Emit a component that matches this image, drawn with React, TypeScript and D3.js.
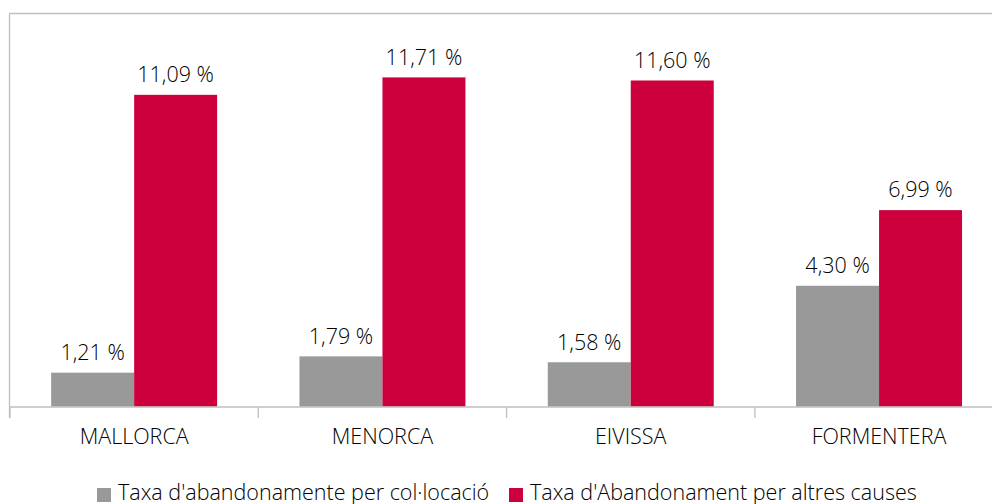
import React from 'react';
import * as d3 from 'd3';

const islands = ['MALLORCA', 'MENORCA', 'EIVISSA', 'FORMENTERA'];
const colocacio = [1.21, 1.79, 1.58, 4.3];
const altres = [11.09, 11.71, 11.6, 6.99];
const seriesNames = ["Taxa d'abandonamente per col·locació", "Taxa d'Abandonament per altres causes"];
const seriesColors = ['#999999', '#cc003d'];

const W = 992;
const H = 504;
const font = '"Open Sans", sans-serif';
const fs = 21.5;

const App: React.FC = () => {
  const x = d3.scaleBand<string>()
    .domain(islands)
    .range([10, 10 + 248.3 * 4])
    .paddingInner(0)
    .paddingOuter(0);

  const inner = d3.scaleBand<number>()
    .domain([0, 1])
    .range([0, x.bandwidth()])
    .paddingInner(0)
    .paddingOuter(0.496);

  const y = d3.scaleLinear().domain([0, 14]).range([406.7, 13]);

  const fmt = (v: number) => d3.format('.2f')(v).replace('.', ',') + ' %';
  const series = [colocacio, altres];

  return (
    <svg width={W} height={H} style={{ position: 'absolute', left: 0, top: 0, background: '#fff' }}>
      <line x1={9.5} x2={W} y1={13.5} y2={13.5} stroke="#bfbfbf" strokeWidth={1.3} />
      <line x1={9.5} x2={9.5} y1={13.5} y2={418} stroke="#bfbfbf" strokeWidth={1.3} />

      {series.map((vals, si) =>
        islands.map((c, i) => {
          const bx = (x(c) || 0) + (inner(si) || 0);
          const bw = inner.bandwidth();
          return (
            <g key={`${si}-${c}`}>
              <rect x={bx} y={y(vals[i])} width={bw} height={y(0) - y(vals[i])} fill={seriesColors[si]} />
              <text
                x={bx + bw / 2}
                y={y(vals[i]) - 12.7}
                textAnchor="middle"
                fontFamily={font}
                fontWeight={300}
                fontSize={fs}
                fill="#000"
              >
                {fmt(vals[i])}
              </text>
            </g>
          );
        })
      )}

      <line x1={9.5} x2={W} y1={407} y2={407} stroke="#bfbfbf" strokeWidth={1.6} />
      {islands.map((c) => (
        <line key={c} x1={(x(c) || 0)} x2={(x(c) || 0)} y1={407} y2={418} stroke="#bfbfbf" strokeWidth={1.3} />
      ))}
      {islands.map((c) => (
        <text
          key={c}
          x={(x(c) || 0) + x.bandwidth() / 2}
          y={444}
          textAnchor="middle"
          fontFamily={font}
          fontWeight={300}
          fontSize={fs}
          fill="#000"
        >
          {c}
        </text>
      ))}

      {seriesNames.map((n, i) => {
        const lx = i === 0 ? 97 : 509;
        return (
          <g key={n}>
            <rect x={lx} y={488} width={14} height={14} fill={seriesColors[i]} />
            <text x={lx + 21} y={499.5} fontFamily={font} fontWeight={300} fontSize={fs} fill="#000">
              {n}
            </text>
          </g>
        );
      })}
    </svg>
  );
};

export default App;
